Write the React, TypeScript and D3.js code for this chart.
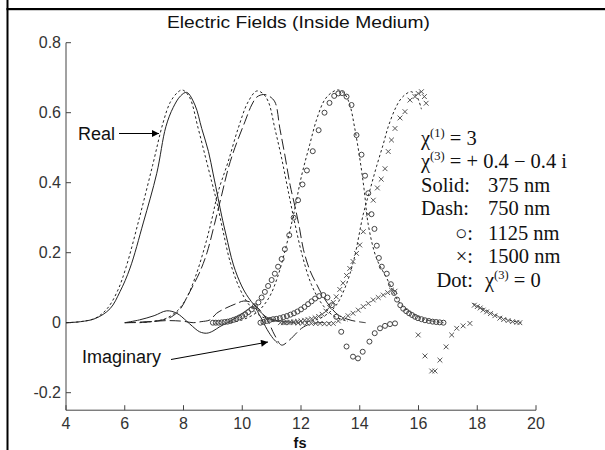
import React from "react";
import * as d3 from "d3";

// ---------- data ----------
const xTicks = [4, 6, 8, 10, 12, 14, 16, 18, 20];
const yTicks = [-0.2, 0, 0.2, 0.4, 0.6, 0.8];
const yTickLabels = ["-0.2", "0", "0.2", "0.4", "0.6", "0.8"];

// Solid (375 nm), real
const solidRealX = [4, 4.5, 5.0, 5.5, 5.84, 6.18, 6.63, 7.09, 7.4, 7.65, 7.9, 8.11, 8.39, 8.62, 8.85, 9.01, 9.18, 9.3, 9.45, 9.7, 9.98, 10.2, 10.43, 10.65, 10.88, 11.2, 11.5, 11.8];
const solidRealY = [0, 0.003, 0.012, 0.04, 0.089, 0.156, 0.285, 0.427, 0.56, 0.615, 0.648, 0.658, 0.622, 0.555, 0.489, 0.425, 0.355, 0.305, 0.25, 0.165, 0.105, 0.073, 0.048, 0.028, 0.013, 0.006, 0.003, 0.0];
// Solid (375 nm), imaginary
const solidImagX = [6.0, 6.5, 7.0, 7.43, 7.77, 8.1, 8.3, 8.55, 8.79, 9.0, 9.24, 9.5, 9.8, 10.1, 10.38, 10.6, 10.85, 11.05, 11.2];
const solidImagY = [0, 0.008, 0.02, 0.034, 0.027, 0.005, -0.01, -0.026, -0.03, -0.024, -0.011, 0.0, 0.015, 0.032, 0.046, 0.02, -0.02, -0.045, -0.058];

// Dash (750 nm), real
const dashRealX = [6, 6.6, 7.0, 7.4, 7.65, 7.9, 8.1, 8.35, 8.56, 8.8, 9.05, 9.3, 9.52, 9.75, 10.09, 10.32, 10.5, 10.72, 10.9, 11.11, 11.28, 11.45, 11.63, 11.8, 11.95, 12.08, 12.3, 12.53, 12.76, 13.0, 13.3, 13.7, 14.2];
const dashRealY = [0, 0.001, 0.004, 0.01, 0.02, 0.04, 0.07, 0.11, 0.146, 0.2, 0.28, 0.365, 0.44, 0.5, 0.574, 0.622, 0.645, 0.652, 0.648, 0.631, 0.555, 0.479, 0.393, 0.33, 0.27, 0.21, 0.15, 0.11, 0.074, 0.045, 0.02, 0.007, 0.0];
// Dash (750 nm), imaginary
const dashImagX = [6.0, 6.6, 7.0, 7.5, 8.0, 8.33, 8.6, 8.9, 9.13, 9.4, 9.81, 10.05, 10.3, 10.6, 10.9, 11.1, 11.34, 11.6, 12.02, 12.3, 12.6, 13.0];
const dashImagY = [0, 0.002, 0.004, 0.006, 0.004, 0.0, 0.003, 0.008, 0.027, 0.04, 0.055, 0.062, 0.058, 0.036, 0.0, -0.035, -0.064, -0.05, -0.016, -0.004, 0.0, 0.0];

// Dot (chi3 = 0), real parts for each thickness
const dot375X = [4, 4.5, 5.0, 5.4, 5.75, 6.05, 6.5, 6.95, 7.3, 7.55, 7.8, 7.96, 8.2, 8.5, 8.73, 8.96, 9.13, 9.35, 9.6, 9.9, 10.2, 10.6, 11.0, 11.5];
const dot375Y = [0, 0.003, 0.013, 0.04, 0.09, 0.16, 0.3, 0.45, 0.57, 0.63, 0.658, 0.665, 0.645, 0.555, 0.479, 0.403, 0.346, 0.26, 0.17, 0.1, 0.055, 0.02, 0.008, 0.0];
const dot750X = [6.5, 7.0, 7.4, 7.8, 8.1, 8.4, 8.7, 8.95, 9.18, 9.52, 9.86, 10.2, 10.49, 10.7, 10.89, 11.11, 11.34, 11.57, 11.8, 12.05, 12.35, 12.7, 13.1, 13.6];
const dot750Y = [0, 0.004, 0.012, 0.035, 0.07, 0.13, 0.21, 0.29, 0.374, 0.46, 0.555, 0.631, 0.662, 0.655, 0.631, 0.555, 0.47, 0.374, 0.28, 0.19, 0.11, 0.055, 0.02, 0.004];
const dot1125X = [9.6, 10.0, 10.5, 10.9, 11.2, 11.5, 11.75, 12.02, 12.3, 12.53, 12.8, 13.05, 13.27, 13.5, 13.67, 13.82, 14.0, 14.15, 14.29, 14.57, 14.92, 15.14, 15.37, 15.71, 16.2, 16.85];
const dot1125Y = [0, 0.008, 0.03, 0.07, 0.13, 0.22, 0.31, 0.42, 0.51, 0.58, 0.636, 0.658, 0.665, 0.652, 0.62, 0.56, 0.47, 0.38, 0.28, 0.184, 0.127, 0.089, 0.055, 0.031, 0.01, 0.0];
const dot1500aX = [12.0, 12.5, 12.9, 13.2, 13.5, 13.8, 14.12, 14.35, 14.57, 14.8, 14.97, 15.2, 15.37, 15.55, 15.75, 15.95, 16.1];
const dot1500aY = [0, 0.008, 0.025, 0.05, 0.1, 0.18, 0.31, 0.38, 0.446, 0.51, 0.56, 0.61, 0.636, 0.652, 0.66, 0.645, 0.61];
const dot1500bX = [17.85, 18.1, 18.4, 18.8, 19.2, 19.5];
const dot1500bY = [0.055, 0.045, 0.032, 0.016, 0.005, 0.0];

// Circles (1125 nm), real
const circRealX = [9.0, 9.1, 9.2, 9.3, 9.4, 9.5, 9.6, 9.7, 9.8, 9.9, 10.0, 10.1, 10.2, 10.32, 10.43, 10.55, 10.66, 10.77, 10.88, 11.0, 11.11, 11.22, 11.34, 11.45, 11.6, 11.75, 11.9, 12.05, 12.2, 12.4, 12.6, 12.8, 12.97, 13.13, 13.27, 13.4, 13.55, 13.72, 13.89, 14.06, 14.18, 14.29, 14.4, 14.5, 14.58, 14.65, 14.75, 14.92, 15.06, 15.17, 15.27, 15.38, 15.48, 15.58, 15.68, 15.78, 15.88, 15.98, 16.1, 16.22, 16.35, 16.48, 16.6, 16.72, 16.85];
const circRealY = [0.0, 0.0, 0.0, 0.001, 0.002, 0.003, 0.005, 0.008, 0.011, 0.015, 0.019, 0.024, 0.03, 0.038, 0.047, 0.058, 0.072, 0.088, 0.105, 0.122, 0.14, 0.16, 0.182, 0.21, 0.25, 0.3, 0.35, 0.395, 0.435, 0.49, 0.55, 0.6, 0.628, 0.648, 0.655, 0.656, 0.646, 0.622, 0.536, 0.48, 0.42, 0.37, 0.31, 0.268, 0.22, 0.185, 0.16, 0.14, 0.11, 0.085, 0.066, 0.05, 0.04, 0.033, 0.027, 0.022, 0.017, 0.013, 0.01, 0.007, 0.005, 0.003, 0.002, 0.001, 0.0];
// Circles (1125 nm), imaginary
const circImagX = [10.62, 10.72, 10.83, 10.94, 11.05, 11.16, 11.28, 11.4, 11.52, 11.64, 11.76, 11.88, 12.0, 12.12, 12.24, 12.36, 12.48, 12.62, 12.76, 12.9, 13.05, 13.2, 13.37, 13.55, 13.77, 13.94, 14.1, 14.33, 14.51, 14.69, 14.86, 15.03, 15.2];
const circImagY = [0.0, 0.002, 0.005, 0.008, 0.01, 0.011, 0.013, 0.016, 0.019, 0.023, 0.027, 0.032, 0.038, 0.045, 0.053, 0.061, 0.069, 0.076, 0.079, 0.072, 0.05, 0.017, -0.026, -0.068, -0.097, -0.102, -0.083, -0.054, -0.03, -0.016, -0.009, -0.004, -0.002];

// Crosses (1500 nm), real
const crossRealX = [11.4, 11.52, 11.64, 11.76, 11.88, 12.0, 12.12, 12.24, 12.36, 12.48, 12.6, 12.72, 12.85, 12.97, 13.1, 13.2, 13.32, 13.43, 13.55, 13.66, 13.77, 13.89, 14.0, 14.12, 14.29, 14.46, 14.6, 14.73, 14.86, 14.97, 15.08, 15.2, 15.37, 15.54, 15.71, 15.88, 15.99, 16.1, 16.2, 16.26];
const crossRealY = [0.0, 0.001, 0.002, 0.003, 0.004, 0.005, 0.007, 0.009, 0.011, 0.014, 0.018, 0.024, 0.033, 0.044, 0.058, 0.074, 0.095, 0.113, 0.135, 0.155, 0.175, 0.198, 0.222, 0.26, 0.31, 0.35, 0.385, 0.41, 0.44, 0.489, 0.522, 0.555, 0.585, 0.603, 0.636, 0.646, 0.655, 0.66, 0.646, 0.627];
const crossReal2X = [17.9, 18.0, 18.1, 18.2, 18.32, 18.45, 18.6, 18.77, 18.9, 19.05, 19.2, 19.35, 19.45];
const crossReal2Y = [0.05, 0.046, 0.042, 0.036, 0.031, 0.026, 0.02, 0.013, 0.009, 0.006, 0.003, 0.001, 0.0];
// Crosses (1500 nm), imaginary
const crossImagX = [11.3, 11.45, 11.6, 11.75, 11.9, 12.05, 12.2, 12.35, 12.5, 12.65, 12.8, 12.95, 13.1, 13.27, 13.43, 13.6, 13.77, 13.95, 14.12, 14.29, 14.46, 14.63, 14.8, 14.95, 15.08, 15.2, 15.99, 16.22, 16.45, 16.56, 16.73, 16.94, 17.13, 17.3, 17.52, 17.75];
const crossImagY = [0.0, 0.0, 0.0, 0.0, -0.001, -0.001, -0.001, -0.002, -0.002, -0.002, -0.003, -0.003, -0.002, 0.005, 0.013, 0.02, 0.027, 0.036, 0.046, 0.055, 0.065, 0.072, 0.079, 0.086, 0.093, 0.09, -0.035, -0.095, -0.138, -0.138, -0.107, -0.069, -0.035, -0.016, -0.009, -0.002];

// legend lines
const legendValues = ["375 nm", "750 nm", "1125 nm", "1500 nm"];

// ---------- helpers ----------
const zip = (xs: number[], ys: number[]) => xs.map((x, i) => [x, ys[i]] as [number, number]);

export default function App() {
  const W = 605, H = 450;
  const x = d3.scaleLinear().domain([4, 20]).range([66, 536]);
  const y = d3.scaleLinear().domain([-0.25, 0.8]).range([410.2, 42.7]);
  const line = d3
    .line<[number, number]>()
    .x((d) => x(d[0]))
    .y((d) => y(d[1]))
    .curve(d3.curveCatmullRom.alpha(0.5));

  const axisColor = "#444";
  const lineColor = "#222";
  const sans = "'Liberation Sans', Arial, Helvetica, sans-serif";
  const serif = "'Liberation Serif', 'Times New Roman', serif";

  const solidLines = [zip(solidRealX, solidRealY), zip(solidImagX, solidImagY)];
  const dashLines = [zip(dashRealX, dashRealY), zip(dashImagX, dashImagY)];
  const dotLines = [
    zip(dot375X, dot375Y),
    zip(dot750X, dot750Y),
    zip(dot1125X, dot1125Y),
    zip(dot1500aX, dot1500aY),
    zip(dot1500bX, dot1500bY),
  ];
  const circles = [...zip(circRealX, circRealY), ...zip(circImagX, circImagY)];
  const crosses = [...zip(crossRealX, crossRealY), ...zip(crossReal2X, crossReal2Y), ...zip(crossImagX, crossImagY)];

  const cs = 2.4;
  const legX = 421;
  const colonX = 473;
  const valX = 488;
  const rowY = [145, 168, 192, 215, 240, 263, 287];

  return (
    <svg
      width={W}
      height={H}
      viewBox={`0 0 ${W} ${H}`}
      style={{ position: "absolute", left: 0, top: 0, background: "#fff" }}
    >
      <defs>
        <marker id="ah" viewBox="0 0 10 10" refX="10" refY="5" markerWidth="9" markerHeight="7" orient="auto" markerUnits="userSpaceOnUse">
          <path d="M0,0 L10,5 L0,10 z" fill="#000" />
        </marker>
      </defs>
      <rect x={0} y={0} width={W} height={H} fill="#fff" />
      {/* frame */}
      <rect x={6.5} y={0} width={2} height={H} fill="#000" />
      <rect x={6.5} y={8} width={W - 6.5} height={2.2} fill="#000" />

      {/* title */}
      <text x={298.5} y={28} textAnchor="middle" fontFamily={sans} fontSize={16.5} textLength={263} lengthAdjust="spacingAndGlyphs" fill="#111">
        Electric Fields (Inside Medium)
      </text>

      {/* axes */}
      <line x1={x(4)} x2={x(4)} y1={y(0.8)} y2={y(-0.25)} stroke={axisColor} strokeWidth={1} />
      <line x1={x(4)} x2={x(20)} y1={y(-0.25)} y2={y(-0.25)} stroke={axisColor} strokeWidth={1} />
      {yTicks.map((t, i) => (
        <g key={"yt" + i}>
          <line x1={x(4)} x2={x(4) + 5} y1={y(t)} y2={y(t)} stroke={axisColor} />
          <text x={61} y={y(t) + 5.5} textAnchor="end" fontFamily={sans} fontSize={16} fill="#333">
            {yTickLabels[i]}
          </text>
        </g>
      ))}
      {xTicks.map((t) => (
        <g key={"xt" + t}>
          <line x1={x(t)} x2={x(t)} y1={y(-0.25)} y2={y(-0.25) - 5} stroke={axisColor} />
          <text x={x(t)} y={429} textAnchor="middle" fontFamily={sans} fontSize={16} fill="#333">
            {t}
          </text>
        </g>
      ))}
      <text x={300} y={448} textAnchor="middle" fontFamily={sans} fontSize={14.5} fontWeight="bold" fill="#111">
        fs
      </text>

      {/* curves */}
      {dotLines.map((d, i) => (
        <path key={"dot" + i} d={line(d) || ""} fill="none" stroke={lineColor} strokeWidth={1} strokeDasharray="2.5,2.5" />
      ))}
      {dashLines.map((d, i) => (
        <path key={"dash" + i} d={line(d) || ""} fill="none" stroke={lineColor} strokeWidth={1} strokeDasharray="11,4" />
      ))}
      {solidLines.map((d, i) => (
        <path key={"solid" + i} d={line(d) || ""} fill="none" stroke={lineColor} strokeWidth={1} />
      ))}
      {circles.map((d, i) => (
        <circle key={"c" + i} cx={x(d[0])} cy={y(d[1])} r={2.5} fill="none" stroke="#444" strokeWidth={1} />
      ))}
      {crosses.map((d, i) => (
        <path
          key={"x" + i}
          d={`M${x(d[0]) - cs},${y(d[1]) - cs}L${x(d[0]) + cs},${y(d[1]) + cs}M${x(d[0]) - cs},${y(d[1]) + cs}L${x(d[0]) + cs},${y(d[1]) - cs}`}
          stroke="#555"
          strokeWidth={1}
          fill="none"
        />
      ))}

      {/* annotations */}
      <text x={78} y={139.5} fontFamily={sans} fontSize={18} fill="#111">Real</text>
      <line x1={119} y1={133.5} x2={159} y2={133.5} stroke="#000" strokeWidth={1} markerEnd="url(#ah)" />
      <text x={82} y={363} fontFamily={sans} fontSize={18} fill="#111">Imaginary</text>
      <line x1={171} y1={359.5} x2={268} y2={342} stroke="#000" strokeWidth={1} markerEnd="url(#ah)" />

      {/* legend text */}
      <g fontFamily={serif} fontSize={20.5} fill="#111">
        <text x={legX} y={rowY[0]}>
          χ<tspan fontSize={12.5} dy={-8}>(1)</tspan>
          <tspan dy={8}> = 3</tspan>
        </text>
        <text x={legX} y={rowY[1]}>
          χ<tspan fontSize={12.5} dy={-8}>(3)</tspan>
          <tspan dy={8}> = + 0.4 − 0.4 i</tspan>
        </text>
        <text x={legX} y={rowY[2]}>Solid:</text>
        <text x={valX} y={rowY[2]}>{legendValues[0]}</text>
        <text x={legX} y={rowY[3]}>Dash:</text>
        <text x={valX} y={rowY[3]}>{legendValues[1]}</text>
        <text x={colonX} y={rowY[4]} textAnchor="end">○:</text>
        <text x={valX} y={rowY[4]}>{legendValues[2]}</text>
        <text x={colonX} y={rowY[5]} textAnchor="end">×:</text>
        <text x={valX} y={rowY[5]}>{legendValues[3]}</text>
        <text x={colonX} y={rowY[6]} textAnchor="end">Dot:</text>
        <text x={valX - 3} y={rowY[6]}>
          χ<tspan fontSize={12.5} dy={-8}>(3)</tspan>
          <tspan dy={8}> = 0</tspan>
        </text>
      </g>
    </svg>
  );
}
